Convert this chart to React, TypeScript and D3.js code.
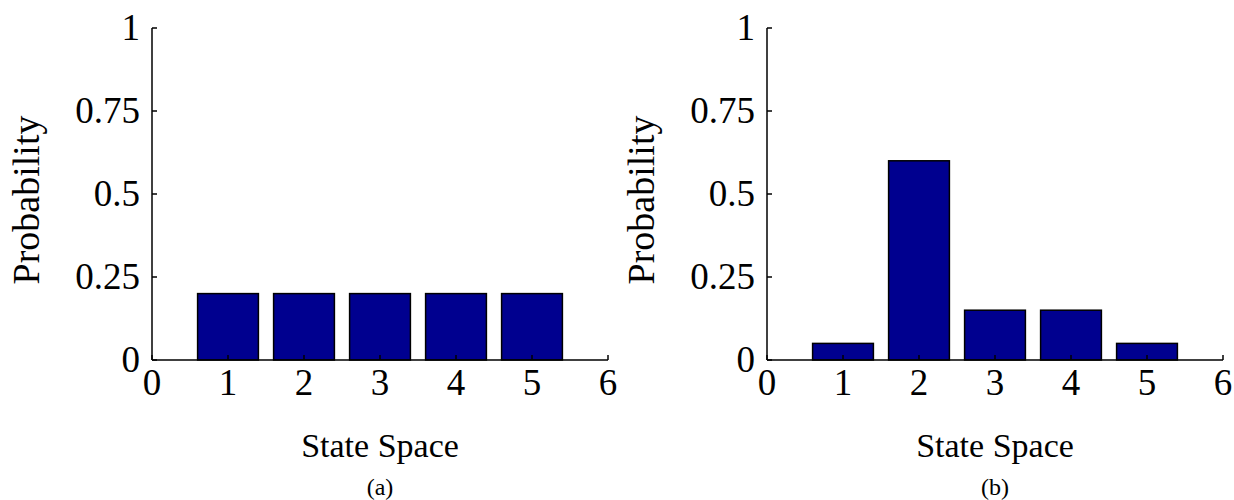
import * as d3 from "d3";
import { useEffect, useRef } from "react";

const states = [1, 2, 3, 4, 5];
const probsA = [0.2, 0.2, 0.2, 0.2, 0.2];
const probsB = [0.05, 0.6, 0.15, 0.15, 0.05];
const xTicks = [0, 1, 2, 3, 4, 5, 6];
const yTicks = [0, 0.25, 0.5, 0.75, 1];
const yTickLabels = ["0", "0.25", "0.5", "0.75", "1"];
const panels = [
  { values: probsA, caption: "(a)", left: 152 },
  { values: probsB, caption: "(b)", left: 767 },
];

const App = () => {
  const ref = useRef<SVGSVGElement>(null);
  useEffect(() => {
    const svg = d3.select(ref.current);
    svg.selectAll("*").remove();
    const width = 456,
      top = 28,
      bottom = 360;
    const font = "'Liberation Serif', 'Times New Roman', serif";

    panels.forEach((p) => {
      const g = svg.append("g").attr("transform", `translate(${p.left},0)`);
      const x = d3.scaleLinear().domain([0, 6]).range([0, width]);
      const y = d3.scaleLinear().domain([0, 1]).range([bottom, top]);

      // bars
      g.selectAll("rect")
        .data(p.values)
        .join("rect")
        .attr("x", (d, i) => x(states[i] - 0.4))
        .attr("width", x(0.8) - x(0))
        .attr("y", (d) => y(d))
        .attr("height", (d) => y(0) - y(d))
        .attr("fill", "#00008f")
        .attr("stroke", "#000")
        .attr("stroke-width", 1.5);

      // axis lines
      g.append("line")
        .attr("x1", 0).attr("x2", 0)
        .attr("y1", top).attr("y2", bottom)
        .attr("stroke", "#000").attr("stroke-width", 1.5);
      g.append("line")
        .attr("x1", 0).attr("x2", width)
        .attr("y1", bottom).attr("y2", bottom)
        .attr("stroke", "#000").attr("stroke-width", 1.5);

      // y ticks, pointing in
      g.selectAll(".yt")
        .data(yTicks)
        .join("line")
        .attr("x1", 0).attr("x2", 5)
        .attr("y1", (d) => y(d)).attr("y2", (d) => y(d))
        .attr("stroke", "#000").attr("stroke-width", 1.5);
      g.selectAll(".yl")
        .data(yTicks)
        .join("text")
        .attr("x", -12)
        .attr("y", (d) => y(d) + 12)
        .attr("text-anchor", "end")
        .attr("font-family", font)
        .attr("font-size", 37)
        .text((d, i) => yTickLabels[i]);

      // x ticks, pointing in
      g.selectAll(".xt")
        .data(xTicks)
        .join("line")
        .attr("x1", (d) => x(d)).attr("x2", (d) => x(d))
        .attr("y1", bottom).attr("y2", bottom - 5)
        .attr("stroke", "#000").attr("stroke-width", 1.5);
      g.selectAll(".xl")
        .data(xTicks)
        .join("text")
        .attr("x", (d) => x(d))
        .attr("y", bottom + 35)
        .attr("text-anchor", "middle")
        .attr("font-family", font)
        .attr("font-size", 37)
        .text((d) => d);

      g.append("text")
        .attr("x", width / 2)
        .attr("y", 457)
        .attr("text-anchor", "middle")
        .attr("font-family", font)
        .attr("font-size", 34)
        .text("State Space");

      g.append("text")
        .attr("transform", `translate(-113,200) rotate(-90)`)
        .attr("text-anchor", "middle")
        .attr("font-family", font)
        .attr("font-size", 38)
        .text("Probability");

      g.append("text")
        .attr("x", width / 2)
        .attr("y", 495)
        .attr("text-anchor", "middle")
        .attr("font-family", font)
        .attr("font-size", 24)
        .text(p.caption);
    });
  }, []);

  return (
    <svg
      ref={ref}
      width={1234}
      height={500}
      style={{ position: "absolute", left: 0, top: 0, background: "#fff" }}
    />
  );
};

export default App;
